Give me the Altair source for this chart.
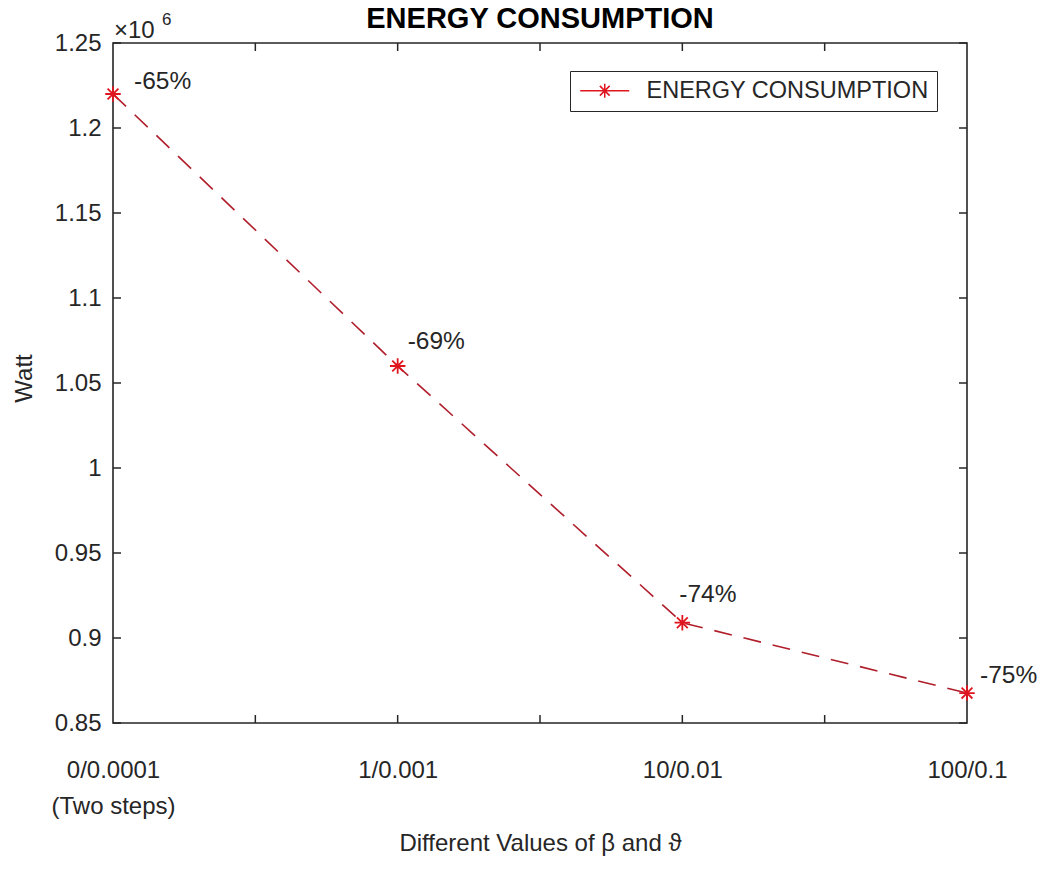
import altair as alt
import pandas as pd

# Settings of beta / theta that were compared
settings = ["0/0.0001", "1/0.001", "10/0.01", "100/0.1"]
first_note = "(Two steps)"
# Energy consumption in Watt for each setting
energy_w = [1220000, 1060000, 909000, 867600]
# Reduction stated next to each point
reduction = ["-65%", "-69%", "-74%", "-75%"]

y_ticks = [850000, 900000, 950000, 1000000, 1050000, 1100000, 1150000, 1200000, 1250000]
x_ticks = [0.5, 1, 1.5, 2, 2.5]

W, H = 854, 680
FONT = "Liberation Sans"
LINE_RED = "#b01e2b"
MARK_RED = "#e0161f"
INK = "#262626"
TICK = 8

df = pd.DataFrame({
    "pos": list(range(len(settings))),
    "energy": energy_w,
    "label": reduction,
    "series": ["ENERGY CONSUMPTION"] * len(settings),
})

x_scale = alt.Scale(domain=[0, 3], nice=False, zero=False)
y_scale = alt.Scale(domain=[850000, 1250000], nice=False, zero=False)

label_list = "[" + ", ".join(
    ("['%s', '%s']" % (s, first_note)) if i == 0 else "'%s'" % s
    for i, s in enumerate(settings)
) + "]"

x_enc = alt.X(
    "pos:Q", scale=x_scale,
    axis=alt.Axis(
        values=[0, 1, 2, 3], labelExpr=label_list + "[datum.value]",
        ticks=False, domain=False, grid=False,
        labelPadding=35, labelFontSize=24, labelFont=FONT, labelColor=INK,
        labelLineHeight=36, labelFlush=False, labelOverlap=False,
        title="Different Values of β and ϑ", titleFontSize=24, titleFont=FONT,
        titleFontWeight="normal", titleColor=INK, titleX=W / 2, titleY=120,
        titleBaseline="middle", titleAnchor="middle",
    ),
)
y_enc = alt.Y(
    "energy:Q", scale=y_scale,
    axis=alt.Axis(
        values=y_ticks, labelExpr="format(datum.value / 1e6, '~g')",
        ticks=False, domain=False, grid=False,
        labelPadding=12, labelFontSize=24, labelFont=FONT, labelColor=INK,
        labelFlush=False, labelOverlap=False,
        title="Watt", titleFontSize=24, titleFont=FONT, titleFontWeight="normal",
        titleColor=INK, titleX=-89, titleY=335, titleBaseline="middle",
        titleAngle=-90,
    ),
)

base = alt.Chart(df)

line = base.mark_line(
    color=LINE_RED, strokeWidth=1.6, strokeDash=[18, 12]
).encode(x=x_enc, y=y_enc)

asterisk = "M-1,0L1,0M0,-1L0,1M-0.7,-0.7L0.7,0.7M-0.7,0.7L0.7,-0.7"
legend_glyph = "M-3.5,0L3.5,0M0,-1L0,1M-0.7,-0.7L0.7,0.7M-0.7,0.7L0.7,-0.7"

points = base.mark_point(
    shape=asterisk, size=240, filled=False, strokeWidth=1.8, opacity=1
).encode(
    x=alt.X("pos:Q", scale=x_scale),
    y=alt.Y("energy:Q", scale=y_scale),
    color=alt.Color(
        "series:N",
        scale=alt.Scale(domain=["ENERGY CONSUMPTION"], range=[MARK_RED]),
        legend=alt.Legend(
            title=None, orient="none", legendX=457, legendY=28,
            symbolType=legend_glyph, symbolSize=196, symbolStrokeWidth=1.5,
            symbolStrokeColor=MARK_RED, symbolFillColor="transparent",
            symbolOffset=15, labelOffset=30, labelLimit=0,
            labelFont=FONT, labelFontSize=23.5, labelColor=INK,
            fillColor="white", strokeColor=INK, padding=8,
        ),
    ),
)

# value labels, each nudged off its own point
label_offsets = [(21, -12), (10, -24), (-3, -28), (13, -17)]
labels = []
for i, (ox, oy) in enumerate(label_offsets):
    labels.append(
        base.transform_filter(alt.datum.pos == i).mark_text(
            align="left", baseline="middle", dx=ox, dy=oy,
            font=FONT, fontSize=24.5, color=INK,
        ).encode(
            x=alt.X("pos:Q", scale=x_scale),
            y=alt.Y("energy:Q", scale=y_scale),
            text="label:N",
        )
    )

# inward tick marks on all four sides of the frame
yt = pd.DataFrame({"v": y_ticks})
xt = pd.DataFrame({"v": x_ticks})
tick_style = dict(color=INK, strokeWidth=1.5)
left_ticks = alt.Chart(yt).mark_rule(**tick_style).encode(
    y=alt.Y("v:Q", scale=y_scale), x=alt.value(0), x2=alt.value(TICK))
right_ticks = alt.Chart(yt).mark_rule(**tick_style).encode(
    y=alt.Y("v:Q", scale=y_scale), x=alt.value(W - TICK), x2=alt.value(W))
bottom_ticks = alt.Chart(xt).mark_rule(**tick_style).encode(
    x=alt.X("v:Q", scale=x_scale), y=alt.value(H - TICK), y2=alt.value(H))
top_ticks = alt.Chart(xt).mark_rule(**tick_style).encode(
    x=alt.X("v:Q", scale=x_scale), y=alt.value(0), y2=alt.value(TICK))

# exponent note above the y axis
one = pd.DataFrame({"t": [0]})
times_ten = alt.Chart(one).mark_text(
    align="left", baseline="alphabetic", font=FONT, fontSize=24, color=INK
).encode(x=alt.value(1), y=alt.value(-5), text=alt.value("×10"))
exponent = alt.Chart(one).mark_text(
    align="left", baseline="alphabetic", font=FONT, fontSize=17, color=INK
).encode(x=alt.value(49), y=alt.value(-18), text=alt.value("6"))

chart = alt.layer(
    line, points, *labels, left_ticks, right_ticks, bottom_ticks, top_ticks,
    times_ten, exponent,
).properties(
    width=W, height=H,
    background="white",
    autosize=alt.AutoSizeParams(type="none"),
    padding={"left": 113, "top": 43, "right": 73, "bottom": 146},
    title=alt.TitleParams(
        "ENERGY CONSUMPTION", font=FONT, fontSize=29, fontWeight="bold",
        color="black", anchor="middle", offset=12, dy=35,
    ),
).configure_view(
    stroke=INK, strokeWidth=1.6
)

chart.save("out.html", embed_options={"renderer": "svg", "actions": False})
